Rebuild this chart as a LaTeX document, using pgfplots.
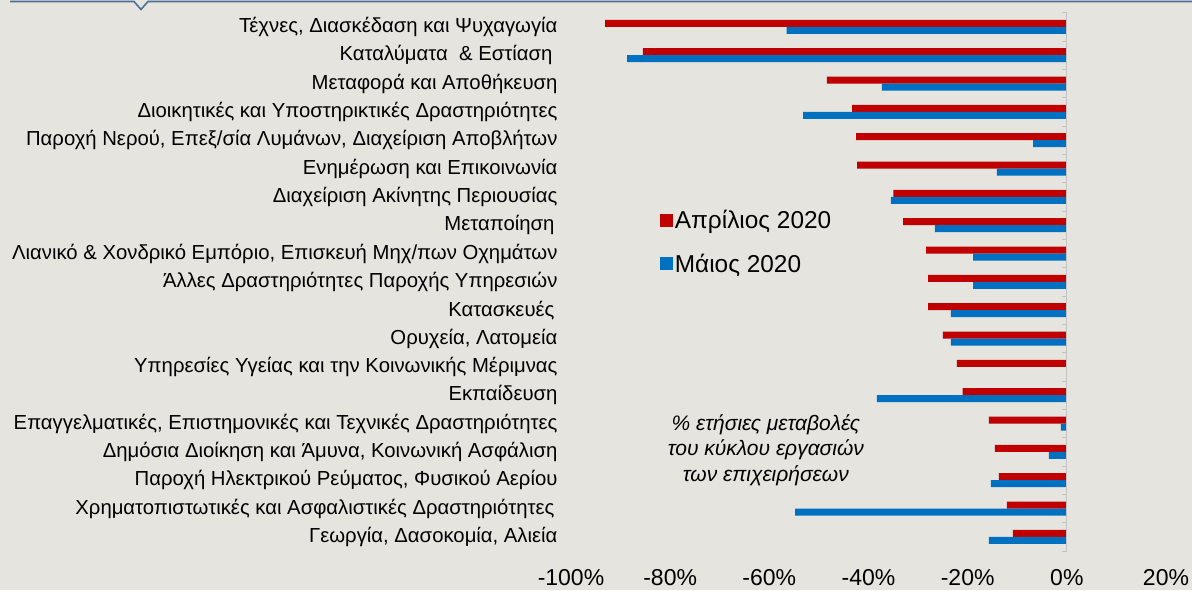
\documentclass[border=0pt]{standalone}
\usepackage{fontspec}
\setmainfont{Liberation Sans}
\usepackage{pgfplots}
\pgfplotsset{compat=1.18}
\definecolor{bg}{HTML}{E5E4DF}
\definecolor{apr}{HTML}{C00000}
\definecolor{mai}{HTML}{0070C0}
\definecolor{topline}{HTML}{4F6F97}
\definecolor{axgray}{HTML}{C4C4C4}

\begin{document}
\begin{tikzpicture}[x=1pt,y=1pt]
\fill[bg] (0,0) rectangle (1192,590);
\draw[topline, line width=1.6pt] (10,588.5) -- (134,588.5) -- (141,580.5) -- (148,588.5) -- (1192,588.5);
\begin{axis}[
  at={(571pt,39pt)}, anchor=south west,
  scale only axis, width=595pt, height=538.3pt,
  xmin=-100, xmax=20, ymin=0.5, ymax=19.5,
  xbar, bar width=7pt,
  axis line style={draw=none},
  xtick={-100,-80,...,20},
  xticklabels={-100\%,-80\%,-60\%,-40\%,-20\%,0\%,20\%},
  ytick={1,...,19},
  yticklabels={
    {Γεωργία, Δασοκομία, Αλιεία},
    {Χρηματοπιστωτικές και Ασφαλιστικές Δραστηριότητες\hspace*{3pt}},
    {Παροχή Ηλεκτρικού Ρεύματος, Φυσικού Αερίου},
    {Δημόσια Διοίκηση και Άμυνα, Κοινωνική Ασφάλιση},
    {Επαγγελματικές, Επιστημονικές και Τεχνικές Δραστηριότητες},
    {Εκπαίδευση},
    {Υπηρεσίες Υγείας και την Κοινωνικής Μέριμνας},
    {Ορυχεία, Λατομεία},
    {Κατασκευές\hspace*{3pt}},
    {Άλλες Δραστηριότητες Παροχής Υπηρεσιών},
    {Λιανικό \& Χονδρικό Εμπόριο, Επισκευή Μηχ/πων Οχημάτων},
    {Μεταποίηση\hspace*{3pt}},
    {Διαχείριση Ακίνητης Περιουσίας},
    {Ενημέρωση και Επικοινωνία},
    {Παροχή Νερού, Επεξ/σία Λυμάνων, Διαχείριση Αποβλήτων},
    {Διοικητικές και Υποστηρικτικές Δραστηριότητες},
    {Μεταφορά και Αποθήκευση},
    {Καταλύματα\ \ \& Εστίαση\hspace*{5pt}},
    {Τέχνες, Διασκέδαση και Ψυχαγωγία}},
  major tick length=0pt,
  tick style={draw=none},
  x tick label style={font=\fontsize{23}{25}\selectfont, yshift=-15pt},
  y tick label style={font=\fontsize{20.3}{22}\selectfont, xshift=-10pt},
  clip=false,
  legend style={at={(axis cs:-82.6,12.69)}, anchor=north west, draw=none, fill=none,
    font=\fontsize{24.4}{26}\selectfont, row sep=20pt, cells={anchor=west}},
]
% April 2020
\addplot[fill=apr, draw=none, bar shift=3.5pt, forget plot] coordinates {
  (-93.1,19) (-85.5,18) (-48.4,17) (-43.3,16) (-42.5,15) (-42.3,14) (-35.0,13)
  (-33.0,12) (-28.4,11) (-28.0,10) (-28.0,9) (-25.0,8) (-22.2,7) (-21.0,6)
  (-15.7,5) (-14.5,4) (-13.7,3) (-12.1,2) (-10.9,1)
};
% May 2020
\addplot[fill=mai, draw=none, bar shift=-3.5pt, forget plot] coordinates {
  (-56.5,19) (-88.7,18) (-37.3,17) (-53.2,16) (-6.8,15) (-14.1,14) (-35.5,13)
  (-26.6,12) (-18.9,11) (-18.9,10) (-23.4,9) (-23.4,8) (0,7) (-38.3,6)
  (-1.2,5) (-3.6,4) (-15.3,3) (-54.8,2) (-15.7,1)
};
\addlegendimage{legend image code/.code={\fill[apr] (0pt,-6pt) rectangle (12pt,6pt);}}
\addlegendentry{Απρίλιος 2020}
\addlegendimage{legend image code/.code={\fill[mai] (0pt,-6pt) rectangle (12pt,6pt);}}
\addlegendentry{Μάιος 2020}

\draw[axgray, line width=1pt] (axis cs:0,0.5) -- (axis cs:0,19.5);
\pgfplotsinvokeforeach{0,...,19}{
  \draw[axgray, line width=0.8pt] (axis cs:0,#1.5) -- ++(-5pt,0pt);
}
\node[font=\itshape\fontsize{21}{25.5}\selectfont, align=center]
  at (axis cs:-60.7,4.06) {\% ετήσιες μεταβολές\\του κύκλου εργασιών\\των επιχειρήσεων};
\end{axis}
\pgfresetboundingbox
\path (0,0) rectangle (1192,590);
\end{tikzpicture}
\end{document}
